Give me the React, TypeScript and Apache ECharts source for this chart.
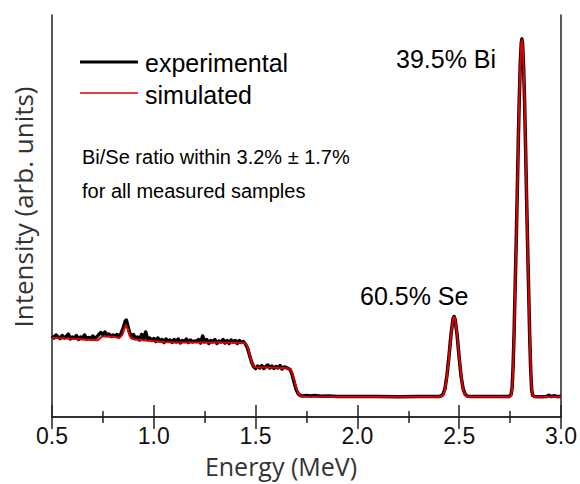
import React, { useEffect, useRef } from "react";
import * as echarts from "echarts";

// Energy (MeV) / intensity (arb. units) — simulated spectrum
const simEnergy = [
  0.5, 0.55, 0.6, 0.65, 0.7, 0.725, 0.735, 0.745, 0.78, 0.81, 0.83, 0.845, 0.855, 0.863, 0.872, 0.882, 0.895,
  0.92, 0.96, 1.0, 1.05, 1.1, 1.2, 1.3, 1.4, 1.445, 1.455, 1.465, 1.475, 1.485, 1.495, 1.51, 1.55, 1.6, 1.655,
  1.67, 1.68, 1.69, 1.7, 1.71, 1.72, 1.74, 1.8, 2.0, 2.2, 2.4,
  2.41, 2.42, 2.43, 2.44, 2.45, 2.46, 2.47, 2.475, 2.48, 2.49, 2.5, 2.51, 2.52, 2.53, 2.54, 2.56, 2.7, 2.745,
  2.755, 2.76, 2.765, 2.77, 2.775, 2.78, 2.785, 2.79, 2.795, 2.8, 2.805, 2.808, 2.811, 2.816, 2.821, 2.826,
  2.831, 2.836, 2.841, 2.846, 2.851, 2.856, 2.861, 2.871, 3.0,
];
const simIntensity = [
  79.3, 78.8, 78.2, 77.6, 77.0, 76.8, 78.5, 80.5, 80.6, 80.0, 79.0, 82, 88, 92, 88, 81, 78,
  77.3, 76.5, 75.8, 75.0, 74.5, 74.6, 74.5, 74.3, 74.0, 72.5, 67, 59, 52.5, 50, 49.6, 49.5, 49.3, 48.8,
  47.8, 44.5, 37, 29, 23.5, 21.3, 20.5, 20.2, 20.2, 20.2, 20.3,
  20.7, 21.8, 26.5, 40.5, 59.9, 82.3, 97.8, 100, 97.8, 82.3, 59.9, 40.5, 26.5, 21.8, 20.6, 20.3, 20.3, 20.3,
  21.5, 28, 50, 85, 130, 173, 221, 272, 317, 353, 373.5, 377, 373.5, 353, 317, 272,
  221, 173, 130, 85, 50, 28, 21.5, 20.3, 20.3,
];

// Experimental spectrum
const expEnergy = [
  0.5, 0.51, 0.52, 0.53, 0.54, 0.55, 0.56, 0.57, 0.58, 0.59, 0.6, 0.61, 0.62, 0.63, 0.64, 0.65, 0.66, 0.67,
  0.68, 0.69, 0.7, 0.71, 0.72, 0.73, 0.74, 0.75, 0.76, 0.77, 0.78, 0.79, 0.8, 0.81, 0.82, 0.83, 0.84, 0.85,
  0.86, 0.865, 0.87, 0.88, 0.89, 0.9, 0.91, 0.92, 0.93, 0.94, 0.95, 0.96, 0.97, 0.98, 0.99, 1.0, 1.01, 1.02,
  1.03, 1.04, 1.05, 1.06, 1.07, 1.08, 1.09, 1.1, 1.11, 1.12, 1.13, 1.14, 1.15, 1.16, 1.17, 1.18, 1.19, 1.2,
  1.21, 1.22, 1.23, 1.24, 1.25, 1.26, 1.27, 1.28, 1.29, 1.3, 1.31, 1.32, 1.33, 1.34, 1.35, 1.36, 1.37, 1.38,
  1.39, 1.4, 1.41, 1.42, 1.43, 1.44, 1.45, 1.46, 1.47, 1.48, 1.49, 1.5, 1.51, 1.52, 1.53, 1.54, 1.55, 1.56,
  1.57, 1.58, 1.59, 1.6, 1.61, 1.62, 1.63, 1.64, 1.65, 1.66, 1.67, 1.68, 1.69, 1.7, 1.71, 1.72, 1.73, 1.75,
  1.77, 1.79, 1.82, 1.86, 1.9, 2.0, 2.1, 2.2, 2.3, 2.4,
  2.41, 2.42, 2.43, 2.44, 2.45, 2.46, 2.47, 2.475, 2.48, 2.49, 2.5, 2.51, 2.52, 2.53, 2.54, 2.56, 2.65, 2.745,
  2.755, 2.76, 2.765, 2.77, 2.775, 2.78, 2.785, 2.79, 2.795, 2.8, 2.805, 2.808, 2.811, 2.816, 2.821, 2.826,
  2.831, 2.836, 2.841, 2.846, 2.851, 2.856, 2.861, 2.871, 2.9, 2.93, 2.94, 2.95, 2.97, 2.98, 3.0,
];
const expIntensity = [
  81, 79, 82, 80, 78.5, 81.5, 79, 80.5, 83, 78, 80, 79, 81.5, 77.5, 80, 79, 82, 78,
  79.5, 78, 81, 79, 80, 82.5, 84.5, 82, 85, 81.5, 83, 80.5, 82, 81, 82.5, 80, 84, 89,
  96, 97, 93, 85, 80, 82.5, 78.5, 80, 77, 82.5, 78, 85, 77.5, 79, 76.5, 78.5, 75.5, 79,
  76, 77.5, 74.5, 78, 76, 77, 74.5, 77.5, 75, 78, 74, 76.5, 75.5, 78, 74.5, 77, 75, 76,
  75.5, 77.5, 74, 81, 75, 77.5, 73.5, 76.5, 75, 77.5, 73.5, 76, 75, 77.5, 74, 76.5, 73.5, 77,
  75, 76.5, 73.5, 76.5, 74.5, 75.5, 73, 69, 62, 55, 50.5, 48.5, 51, 49, 51.5, 48.5, 50.5, 52,
  49, 51, 48.5, 50.5, 49, 51.5, 48, 50, 49.5, 48.5, 47.5, 42, 34, 27, 23, 21.5, 21, 21.6,
  21, 21.4, 20.8, 21, 20.5, 20.4, 20.5, 20.3, 20.4, 20.5,
  21, 22.5, 28, 42, 61, 83, 98.5, 100.5, 97.5, 81.5, 59, 39.5, 27.5, 22.3, 20.8, 20.5, 20.4, 20.5,
  22.5, 29.5, 52, 87, 132, 175, 223, 274, 318, 354, 374.5, 378, 374, 352, 316, 270,
  219, 171, 128, 83, 48, 27, 21.5, 20.5, 20.3, 20.5, 21.8, 20.6, 21.2, 20.4, 20.5,
];

const xTicks = [0.5, 1.0, 1.5, 2.0, 2.5, 3.0];

const zip = (xs: number[], ys: number[]) => xs.map((x, i) => [x, ys[i]]);

export default function App() {
  const ref = useRef<HTMLDivElement>(null);
  useEffect(() => {
    document.body.style.margin = "0";
    if (!ref.current) return;
    const chart = echarts.init(ref.current, undefined, { renderer: "svg" });
    const axisColor = "#222";
    const xCommon = {
      type: "value" as const,
      min: xTicks[0],
      max: xTicks[xTicks.length - 1],
      interval: 0.5,
      axisLine: { show: true, lineStyle: { color: axisColor, width: 1.5 } },
      axisTick: { show: true, inside: true, length: 12, lineStyle: { color: axisColor, width: 1.5 } },
      minorTick: { show: true, splitNumber: 2, length: 6, lineStyle: { color: axisColor, width: 1.5 } },
      splitLine: { show: false },
      minorSplitLine: { show: false },
    };
    const yCommon = {
      type: "value" as const,
      min: 0,
      max: 402,
      axisLine: { show: true, lineStyle: { color: axisColor, width: 1.5 } },
      axisTick: { show: false },
      axisLabel: { show: false },
      splitLine: { show: false },
    };
    const textFont = "'Liberation Sans', Arial, sans-serif";
    chart.setOption({
      animation: false,
      grid: { left: 52, right: 19, top: 15, bottom: 67 },
      xAxis: [
        {
          ...xCommon,
          position: "bottom",
          axisLabel: {
            show: true,
            margin: 7,
            fontSize: 23,
            color: "#111",
            fontFamily: textFont,
            formatter: (v: number) => v.toFixed(1),
          },
        },
        { ...xCommon, position: "top", axisLabel: { show: false } },
      ],
      yAxis: [
        { ...yCommon, position: "left" },
        { ...yCommon, position: "right" },
      ],
      series: [
        {
          name: "experimental",
          type: "line",
          data: zip(expEnergy, expIntensity),
          showSymbol: false,
          symbol: "none",
          lineStyle: { color: "#000", width: 3.5, join: "round" },
          z: 2,
        },
        {
          name: "simulated",
          type: "line",
          data: zip(simEnergy, simIntensity),
          showSymbol: false,
          symbol: "none",
          lineStyle: { color: "#e10000", width: 2, join: "round" },
          z: 3,
        },
      ],
      graphic: [
        { type: "line", shape: { x1: 80, y1: 62, x2: 138, y2: 62 }, style: { stroke: "#000", lineWidth: 3 } },
        { type: "line", shape: { x1: 80, y1: 93, x2: 138, y2: 93 }, style: { stroke: "#e10000", lineWidth: 1.5 } },
        {
          type: "text", x: 145, y: 63,
          style: { text: "experimental", fontSize: 25, fontFamily: textFont, fill: "#000", textAlign: "left", textVerticalAlign: "middle" },
        },
        {
          type: "text", x: 145, y: 95,
          style: { text: "simulated", fontSize: 25, fontFamily: textFont, fill: "#000", textAlign: "left", textVerticalAlign: "middle" },
        },
        {
          type: "text", x: 82, y: 157,
          style: { text: "Bi/Se ratio within 3.2% ± 1.7%", fontSize: 20, fontFamily: textFont, fill: "#000", textAlign: "left", textVerticalAlign: "middle" },
        },
        {
          type: "text", x: 82, y: 191,
          style: { text: "for all measured samples", fontSize: 20, fontFamily: textFont, fill: "#000", textAlign: "left", textVerticalAlign: "middle" },
        },
        {
          type: "text", x: 396, y: 59,
          style: { text: "39.5% Bi", fontSize: 25, fontFamily: textFont, fill: "#000", textAlign: "left", textVerticalAlign: "middle" },
        },
        {
          type: "text", x: 360, y: 296,
          style: { text: "60.5% Se", fontSize: 25, fontFamily: textFont, fill: "#000", textAlign: "left", textVerticalAlign: "middle" },
        },
        {
          type: "text", x: 281, y: 466,
          style: { text: "Energy (MeV)", fontSize: 25, fontFamily: "'Open Sans', sans-serif", fill: "#333", textAlign: "center", textVerticalAlign: "middle" },
        },
        {
          type: "text", x: 23, y: 207, rotation: Math.PI / 2,
          style: { text: "Intensity (arb. units)", fontSize: 26, fontFamily: "'Open Sans', sans-serif", fill: "#333", textAlign: "center", textVerticalAlign: "middle" },
        },
      ],
    });
    return () => chart.dispose();
  }, []);
  return <div ref={ref} style={{ width: 580, height: 484 }} />;
}
